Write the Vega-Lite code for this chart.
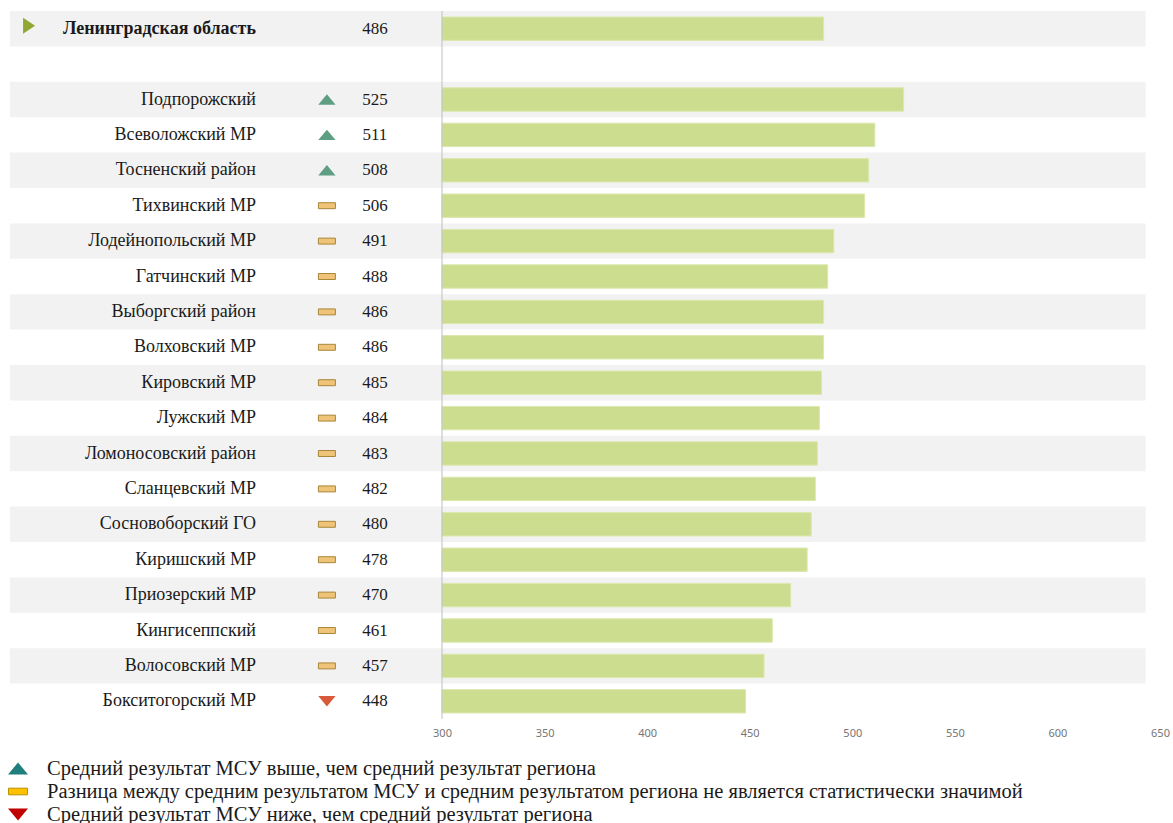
{
  "$schema": "https://vega.github.io/schema/vega-lite/v6.json",
  "padding": {"left": 6, "top": 10, "right": 0, "bottom": 0},
  "spacing": 19,
  "config": {
    "view": {"stroke": null},
    "axisX": {"grid": false, "domain": false, "ticks": false, "labelFlush": false, "labelColor": "#767676", "labelFont": "Noto Sans", "labelFontSize": 11, "labelPadding": 8, "title": null}
  },
  "datasets": {
    "rows": [
      {"name": "Ленинградская область", "value": 486, "sig": "region"},
      {"name": " ", "value": null, "sig": "blank"},
      {"name": "Подпорожский", "value": 525, "sig": "up"},
      {"name": "Всеволожский  МР", "value": 511, "sig": "up"},
      {"name": "Тосненский район", "value": 508, "sig": "up"},
      {"name": "Тихвинский МР", "value": 506, "sig": "eq"},
      {"name": "Лодейнопольский МР", "value": 491, "sig": "eq"},
      {"name": "Гатчинский МР", "value": 488, "sig": "eq"},
      {"name": "Выборгский район", "value": 486, "sig": "eq"},
      {"name": "Волховский МР", "value": 486, "sig": "eq"},
      {"name": "Кировский МР", "value": 485, "sig": "eq"},
      {"name": "Лужский МР", "value": 484, "sig": "eq"},
      {"name": "Ломоносовский район", "value": 483, "sig": "eq"},
      {"name": "Сланцевский МР", "value": 482, "sig": "eq"},
      {"name": "Сосновоборский ГО", "value": 480, "sig": "eq"},
      {"name": "Киришский МР", "value": 478, "sig": "eq"},
      {"name": "Приозерский МР", "value": 470, "sig": "eq"},
      {"name": "Кингисеппский", "value": 461, "sig": "eq"},
      {"name": "Волосовский МР", "value": 457, "sig": "eq"},
      {"name": "Бокситогорский МР", "value": 448, "sig": "down"}
    ],
    "legend": [
      {"k": "up", "t": "Средний результат МСУ выше, чем средний результат региона"},
      {"k": "eq", "t": "Разница между средним результатом МСУ и средним результатом региона не является статистически значимой"},
      {"k": "down", "t": "Средний результат МСУ ниже, чем средний результат региона"}
    ]
  },
  "vconcat": [
    {
      "width": 1152,
      "height": 708,
      "data": {"name": "rows"},
      "layer": [
        {
          "transform": [{"window": [{"op": "row_number", "as": "rn"}]}, {"filter": "datum.rn % 2 == 1"}],
          "mark": {"type": "rect", "color": "#f2f2f2"},
          "encoding": {
            "y": {"field": "name", "type": "nominal", "axis": null, "scale": {"domain": ["Ленинградская область", " ", "Подпорожский", "Всеволожский  МР", "Тосненский район", "Тихвинский МР", "Лодейнопольский МР", "Гатчинский МР", "Выборгский район", "Волховский МР", "Кировский МР", "Лужский МР", "Ломоносовский район", "Сланцевский МР", "Сосновоборский ГО", "Киришский МР", "Приозерский МР", "Кингисеппский", "Волосовский МР", "Бокситогорский МР"], "paddingInner": 0, "paddingOuter": 0}},
            "x": {"datum": 89.4, "type": "quantitative", "scale": {"domain": [88.44, 650], "nice": false, "zero": false}, "axis": {"values": [300, 350, 400, 450, 500, 550, 600, 650]}},
            "x2": {"datum": 643}
          }
        },
        {
          "transform": [{"filter": "datum.value != null"}],
          "mark": {"type": "bar", "color": "#cddd90", "stroke": "#dbe8ad", "strokeWidth": 1, "height": {"band": 0.66}},
          "encoding": {
            "y": {"field": "name", "type": "nominal"},
            "x": {"field": "value", "type": "quantitative"},
            "x2": {"datum": 300}
          }
        },
        {
          "data": {"values": [{}]},
          "mark": {"type": "rule", "color": "#bfbfbf", "strokeWidth": 1},
          "encoding": {"x": {"datum": 300, "type": "quantitative"}}
        },
        {
          "transform": [{"filter": "datum.sig == 'up'"}],
          "mark": {"type": "point", "shape": "M-1,0.6L1,0.6L0,-0.6Z", "size": 300, "filled": true, "color": "#5e9e82", "opacity": 1},
          "encoding": {"y": {"field": "name", "type": "nominal"}, "x": {"datum": 243.9, "type": "quantitative"}}
        },
        {
          "transform": [{"filter": "datum.sig == 'eq'"}],
          "mark": {"type": "point", "shape": "M-1,-0.35L1,-0.35L1,0.35L-1,0.35Z", "size": 289, "filled": true, "fill": "#f0c478", "stroke": "#a8863a", "strokeWidth": 1, "opacity": 1},
          "encoding": {"y": {"field": "name", "type": "nominal"}, "x": {"datum": 243.9, "type": "quantitative"}}
        },
        {
          "transform": [{"filter": "datum.sig == 'down'"}],
          "mark": {"type": "point", "shape": "M-1,-0.6L1,-0.6L0,0.6Z", "size": 300, "filled": true, "color": "#d95a3a", "opacity": 1},
          "encoding": {"y": {"field": "name", "type": "nominal"}, "x": {"datum": 243.9, "type": "quantitative"}}
        },
        {
          "transform": [{"filter": "datum.sig == 'region'"}],
          "mark": {"type": "point", "shape": "M-0.75,-1L0.75,0L-0.75,1Z", "size": 256, "filled": true, "color": "#8ea832", "opacity": 1, "yOffset": -3},
          "encoding": {"y": {"field": "name", "type": "nominal"}, "x": {"datum": 98.7, "type": "quantitative"}}
        },
        {
          "transform": [{"filter": "datum.sig != 'region' && datum.value != null"}],
          "mark": {"type": "text", "align": "right", "baseline": "middle", "font": "Liberation Serif", "fontSize": 18, "color": "#1a1a1a"},
          "encoding": {"y": {"field": "name", "type": "nominal"}, "x": {"datum": 209.3, "type": "quantitative"}, "text": {"field": "name"}}
        },
        {
          "transform": [{"filter": "datum.sig == 'region'"}],
          "mark": {"type": "text", "align": "right", "baseline": "middle", "font": "Liberation Serif", "fontSize": 18, "fontWeight": "bold", "color": "#1a1a1a"},
          "encoding": {"y": {"field": "name", "type": "nominal"}, "x": {"datum": 209.3, "type": "quantitative"}, "text": {"field": "name"}}
        },
        {
          "transform": [{"filter": "datum.value != null"}],
          "mark": {"type": "text", "align": "center", "baseline": "middle", "font": "Liberation Serif", "fontSize": 17, "color": "#1a1a1a"},
          "encoding": {"y": {"field": "name", "type": "nominal"}, "x": {"datum": 267.3, "type": "quantitative"}, "text": {"field": "value", "type": "quantitative"}}
        }
      ]
    },
    {
      "width": 1152,
      "height": 69,
      "data": {"name": "legend"},
      "layer": [
        {
          "transform": [{"filter": "datum.k == 'up'"}],
          "mark": {"type": "point", "shape": "M-1,0.6L1,0.6L0,-0.6Z", "size": 400, "filled": true, "color": "#1f7f7f", "opacity": 1},
          "encoding": {
            "y": {"field": "t", "type": "nominal", "axis": null, "scale": {"domain": ["Средний результат МСУ выше, чем средний результат региона", "Разница между средним результатом МСУ и средним результатом региона не является статистически значимой", "Средний результат МСУ ниже, чем средний результат региона"], "paddingInner": 0, "paddingOuter": 0}},
            "x": {"datum": 0.87, "type": "quantitative", "scale": {"domain": [0, 100], "nice": false}, "axis": null}
          }
        },
        {
          "transform": [{"filter": "datum.k == 'eq'"}],
          "mark": {"type": "point", "shape": "M-1,-0.35L1,-0.35L1,0.35L-1,0.35Z", "size": 361, "filled": true, "fill": "#ffc000", "stroke": "#b8900a", "strokeWidth": 1, "opacity": 1},
          "encoding": {"y": {"field": "t", "type": "nominal"}, "x": {"datum": 0.87, "type": "quantitative"}}
        },
        {
          "transform": [{"filter": "datum.k == 'down'"}],
          "mark": {"type": "point", "shape": "M-1,-0.6L1,-0.6L0,0.6Z", "size": 400, "filled": true, "color": "#c00000", "opacity": 1},
          "encoding": {"y": {"field": "t", "type": "nominal"}, "x": {"datum": 0.87, "type": "quantitative"}}
        },
        {
          "mark": {"type": "text", "align": "left", "baseline": "middle", "font": "Liberation Serif", "fontSize": 20.5, "color": "#1a1a1a"},
          "encoding": {"y": {"field": "t", "type": "nominal"}, "x": {"datum": 3.39, "type": "quantitative"}, "text": {"field": "t"}}
        }
      ]
    }
  ]
}
